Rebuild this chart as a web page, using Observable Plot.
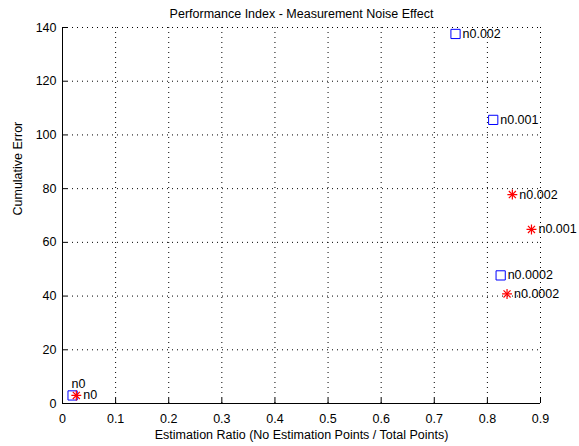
<!DOCTYPE html>
<html>
<head>
<meta charset="utf-8">
<script src="https://cdn.jsdelivr.net/npm/d3@7"></script>
<script src="https://cdn.jsdelivr.net/npm/@observablehq/plot@0.6"></script>
<style>
  html, body { margin: 0; padding: 0; background: #fff; }
  #chart svg { display: block; }
</style>
</head>
<body>
<div id="chart"></div>
<script>
// ---- data ----
const titleText = "Performance Index - Measurement Noise Effect";
const xLabel = "Estimation Ratio (No Estimation Points / Total Points)";
const yLabel = "Cumulative Error";
const noiseLabels = ["n0", "n0.0002", "n0.001", "n0.002"];
const ratioSquare = [0.019, 0.825, 0.811, 0.740];
const errorSquare = [3.0, 47.7, 105.6, 137.6];
const ratioStar = [0.026, 0.837, 0.883, 0.847];
const errorStar = [3.0, 40.8, 64.8, 77.8];
const xTicks = [0, 0.1, 0.2, 0.3, 0.4, 0.5, 0.6, 0.7, 0.8, 0.9];
const yTicks = [0, 20, 40, 60, 80, 100, 120, 140];

// ---- layout ----
const W = 579, H = 446;
const mL = 62, mR = 39, mT = 27, mB = 43;
const iw = W - mL - mR, ih = H - mT - mB;

const squares = noiseLabels.map((n, i) => ({label: n, x: ratioSquare[i], y: errorSquare[i]}));
const stars = noiseLabels.map((n, i) => ({label: n, x: ratioStar[i], y: errorStar[i]}));
const fmtX = d => d === 0 ? "0" : d.toFixed(1);

const chart = Plot.plot({
  width: W, height: H,
  marginLeft: mL, marginRight: mR, marginTop: mT, marginBottom: mB,
  style: {fontFamily: "'Liberation Sans', Arial, sans-serif", fontSize: "12px", color: "#000", background: "#fff"},
  x: {domain: [0, 0.9]},
  y: {domain: [0, 140]},
  marks: [
    Plot.gridX(xTicks, {stroke: "#000", strokeOpacity: 1, strokeDasharray: "1,4"}),
    Plot.gridY(yTicks, {stroke: "#000", strokeOpacity: 1, strokeDasharray: "1,4"}),
    Plot.ruleX(xTicks, {insetTop: ih - 5, stroke: "#000"}),
    Plot.ruleY(yTicks, {insetRight: iw - 5, stroke: "#000"}),
    Plot.ruleX([0], {stroke: "#000"}),
    Plot.ruleY([0], {stroke: "#000"}),
    Plot.axisX(xTicks, {tickSize: 0, tickPadding: 11, tickFormat: fmtX, label: null, fontSize: 12.5}),
    Plot.axisY(yTicks, {tickSize: 0, tickPadding: 6, label: null, fontSize: 12.5}),
    // squares
    Plot.dot(squares, {x: "x", y: "y", symbol: "square", r: 5.2, stroke: "#0000ff", strokeWidth: 1, fill: "none"}),
    // stars (plus + times)
    Plot.dot(stars, {x: "x", y: "y", symbol: "plus", r: 3.3, stroke: "#ff0000", strokeWidth: 1.2}),
    Plot.dot(stars, {x: "x", y: "y", symbol: "times", r: 3.3, stroke: "#ff0000", strokeWidth: 1.2}),
    // labels
    Plot.text(squares.slice(1), {x: "x", y: "y", text: "label", textAnchor: "start", dx: 7, fontSize: 12.5, fill: "#000"}),
    Plot.text(squares.slice(0, 1), {x: "x", y: "y", text: "label", textAnchor: "start", dx: -1, dy: -11, fontSize: 12.5, fill: "#000"}),
    Plot.text(stars, {x: "x", y: "y", text: "label", textAnchor: "start", dx: 7, fontSize: 12.5, fill: "#000"}),
    // title and axis labels
    Plot.text([titleText], {frameAnchor: "top", dy: -18, text: d => d, fontSize: 12.5, fill: "#000"}),
    Plot.text([xLabel], {frameAnchor: "bottom", dy: 35, text: d => d, fontSize: 12.5, fill: "#000"}),
    Plot.text([yLabel], {frameAnchor: "left", dx: -45, rotate: -90, text: d => d, fontSize: 12.5, fill: "#000"})
  ]
});
document.getElementById("chart").appendChild(chart);
</script>
</body>
</html>
